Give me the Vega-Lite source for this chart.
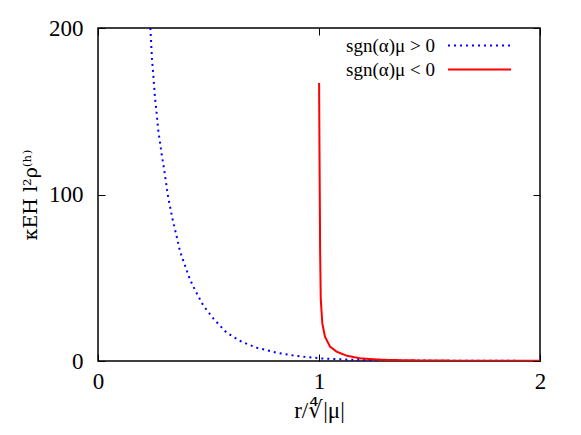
{
  "$schema": "https://vega.github.io/schema/vega-lite/v6.json",
  "width": 442,
  "height": 333,
  "autosize": {"type": "none"},
  "padding": {"left": 98, "top": 28, "right": 41, "bottom": 74},
  "background": "white",
  "config": {
    "view": {"stroke": "black", "strokeWidth": 1.5},
    "font": "Liberation Serif",
    "axis": {
      "grid": false, "domain": false, "ticks": true, "tickSize": -7, "tickColor": "black", "tickWidth": 1,
      "labelFont": "Liberation Serif", "labelFontSize": 23, "labelColor": "black", "labelFlush": false, "labelOverlap": false,
      "titleFont": "Liberation Serif", "titleFontSize": 23, "titleFontWeight": "normal", "titleColor": "black"
    },
    "legend": {
      "orient": "none", "legendX": 370, "legendY": 6,
      "symbolType": "M-3,0H3", "symbolSize": 441, "symbolStrokeWidth": 2,
      "labelAlign": "right", "labelOffset": -56, "labelFontSize": 19, "labelFont": "Liberation Serif",
      "labelColor": "black", "labelLimit": 0, "rowPadding": 2
    }
  },
  "datasets": {
    "curves": [
      {"r": 0.237, "rho": 200, "s": "sgn(α)μ > 0"},
      {"r": 0.244, "rho": 182, "s": "sgn(α)μ > 0"},
      {"r": 0.250, "rho": 172, "s": "sgn(α)μ > 0"},
      {"r": 0.258, "rho": 158, "s": "sgn(α)μ > 0"},
      {"r": 0.266, "rho": 148, "s": "sgn(α)μ > 0"},
      {"r": 0.273, "rho": 138, "s": "sgn(α)μ > 0"},
      {"r": 0.281, "rho": 131, "s": "sgn(α)μ > 0"},
      {"r": 0.288, "rho": 124, "s": "sgn(α)μ > 0"},
      {"r": 0.297, "rho": 117, "s": "sgn(α)μ > 0"},
      {"r": 0.308, "rho": 107, "s": "sgn(α)μ > 0"},
      {"r": 0.318, "rho": 98, "s": "sgn(α)μ > 0"},
      {"r": 0.336, "rho": 86, "s": "sgn(α)μ > 0"},
      {"r": 0.359, "rho": 73, "s": "sgn(α)μ > 0"},
      {"r": 0.371, "rho": 66, "s": "sgn(α)μ > 0"},
      {"r": 0.389, "rho": 59, "s": "sgn(α)μ > 0"},
      {"r": 0.416, "rho": 49, "s": "sgn(α)μ > 0"},
      {"r": 0.439, "rho": 42.6, "s": "sgn(α)μ > 0"},
      {"r": 0.476, "rho": 33.4, "s": "sgn(α)μ > 0"},
      {"r": 0.525, "rho": 25, "s": "sgn(α)μ > 0"},
      {"r": 0.582, "rho": 17, "s": "sgn(α)μ > 0"},
      {"r": 0.649, "rho": 11.6, "s": "sgn(α)μ > 0"},
      {"r": 0.718, "rho": 8, "s": "sgn(α)μ > 0"},
      {"r": 0.809, "rho": 5, "s": "sgn(α)μ > 0"},
      {"r": 0.899, "rho": 3, "s": "sgn(α)μ > 0"},
      {"r": 1.005, "rho": 1.6, "s": "sgn(α)μ > 0"},
      {"r": 1.1, "rho": 1.0, "s": "sgn(α)μ > 0"},
      {"r": 1.2, "rho": 0.6, "s": "sgn(α)μ > 0"},
      {"r": 1.4, "rho": 0.3, "s": "sgn(α)μ > 0"},
      {"r": 1.6, "rho": 0.15, "s": "sgn(α)μ > 0"},
      {"r": 1.8, "rho": 0.1, "s": "sgn(α)μ > 0"},
      {"r": 2.0, "rho": 0.05, "s": "sgn(α)μ > 0"},
      {"r": 1.0005, "rho": 167, "s": "sgn(α)μ < 0"},
      {"r": 1.002, "rho": 130, "s": "sgn(α)μ < 0"},
      {"r": 1.004, "rho": 90, "s": "sgn(α)μ < 0"},
      {"r": 1.005, "rho": 67, "s": "sgn(α)μ < 0"},
      {"r": 1.008, "rho": 37, "s": "sgn(α)μ < 0"},
      {"r": 1.015, "rho": 22.6, "s": "sgn(α)μ < 0"},
      {"r": 1.027, "rho": 14.6, "s": "sgn(α)μ < 0"},
      {"r": 1.05, "rho": 8.6, "s": "sgn(α)μ < 0"},
      {"r": 1.08, "rho": 5.6, "s": "sgn(α)μ < 0"},
      {"r": 1.125, "rho": 3.2, "s": "sgn(α)μ < 0"},
      {"r": 1.186, "rho": 1.6, "s": "sgn(α)μ < 0"},
      {"r": 1.25, "rho": 1.0, "s": "sgn(α)μ < 0"},
      {"r": 1.32, "rho": 0.6, "s": "sgn(α)μ < 0"},
      {"r": 1.45, "rho": 0.35, "s": "sgn(α)μ < 0"},
      {"r": 1.62, "rho": 0.2, "s": "sgn(α)μ < 0"},
      {"r": 1.8, "rho": 0.12, "s": "sgn(α)μ < 0"},
      {"r": 2.0, "rho": 0.08, "s": "sgn(α)μ < 0"}
    ]
  },
  "data": {"name": "curves"},
  "resolve": {"axis": {"x": "independent", "y": "independent"}},
  "layer": [
    {
      "mark": {"type": "line", "strokeWidth": 2, "clip": true},
      "encoding": {
        "x": {"field": "r", "type": "quantitative", "scale": {"domain": [0, 2], "nice": false},
              "axis": {"orient": "bottom", "values": [0, 1, 2], "labelExpr": "format(datum.value, '.0f')", "labelOverlap": false, "labelFlush": false, "labelPadding": 16, "title": "r/∜|μ|", "titlePadding": 6}},
        "y": {"field": "rho", "type": "quantitative", "scale": {"domain": [0, 200], "nice": false},
              "axis": {"orient": "left", "values": [0, 100, 200], "format": "d", "labelOverlap": false, "labelPadding": 22, "title": "κEH l²ρ⁽ʰ⁾", "titleFont": "DejaVu Serif", "titleFontSize": 19, "titlePadding": 8}},
        "color": {"field": "s", "type": "nominal", "title": null,
                  "scale": {"domain": ["sgn(α)μ > 0", "sgn(α)μ < 0"], "range": ["#0000ff", "#ff0000"]}},
        "strokeDash": {"field": "s", "type": "nominal", "title": null,
                  "scale": {"domain": ["sgn(α)μ > 0", "sgn(α)μ < 0"], "range": [[2, 4], [1, 0]]}}
      }
    },
    {
      "mark": {"type": "line", "strokeOpacity": 0, "clip": true},
      "encoding": {
        "x": {"field": "r", "type": "quantitative",
              "axis": {"orient": "top", "values": [0, 1, 2], "labels": false, "title": null}},
        "y": {"field": "rho", "type": "quantitative",
              "axis": {"orient": "right", "values": [0, 100, 200], "labels": false, "title": null}},
        "detail": {"field": "s"}
      }
    }
  ]
}
